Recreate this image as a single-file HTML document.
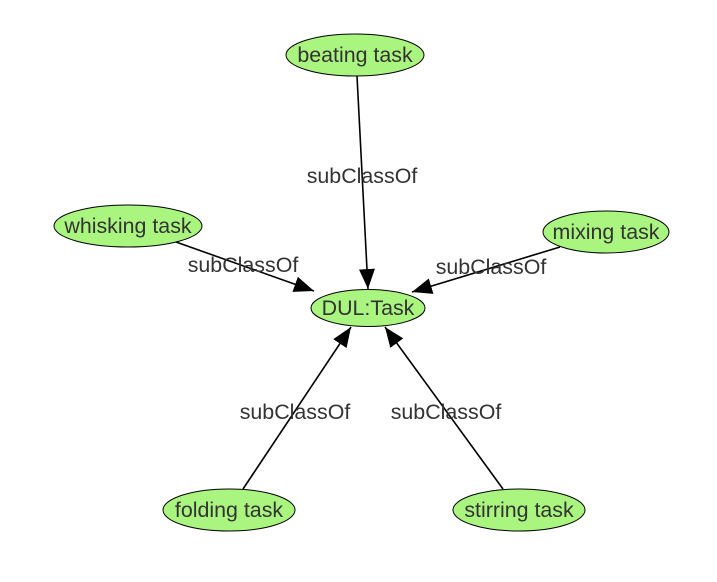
<!DOCTYPE html>
<html><head><meta charset="utf-8"><style>
html,body{margin:0;padding:0;background:#fff;}
svg{display:block;}
text{font-family:"Liberation Sans",Arial,sans-serif;font-size:21.4px;fill:#333;}
</style></head><body>
<svg width="717" height="582" viewBox="0 0 717 582" xmlns="http://www.w3.org/2000/svg">
<defs>
<marker id="a" markerWidth="20" markerHeight="16" refX="20" refY="8" orient="auto" markerUnits="userSpaceOnUse">
<path d="M0,0 L20,8 L0,16 Z" fill="#000"/>
</marker>
</defs>
<g stroke="#000" stroke-width="1.6" fill="none">
<line x1="357" y1="76" x2="368" y2="289" marker-end="url(#a)"/>
<line x1="176" y1="242" x2="314" y2="291" marker-end="url(#a)"/>
<line x1="560" y1="247" x2="412" y2="292" marker-end="url(#a)"/>
<line x1="243" y1="489" x2="351" y2="327" marker-end="url(#a)"/>
<line x1="503" y1="489" x2="385" y2="327" marker-end="url(#a)"/>
</g>
<g fill="#aaf57f" stroke="#000" stroke-width="1">
<ellipse cx="355" cy="55" rx="69" ry="21"/>
<ellipse cx="128" cy="226" rx="74" ry="21"/>
<ellipse cx="606" cy="232" rx="63" ry="21"/>
<ellipse cx="368" cy="308" rx="57" ry="18.5"/>
<ellipse cx="229" cy="510" rx="66" ry="21"/>
<ellipse cx="519" cy="510" rx="66" ry="21"/>
</g>
<g text-anchor="middle">
<text x="355" y="62">beating task</text>
<text x="128" y="233">whisking task</text>
<text x="606" y="239">mixing task</text>
<text x="368" y="315">DUL:Task</text>
<text x="229" y="517">folding task</text>
<text x="519" y="517">stirring task</text>
<text x="362" y="183">subClassOf</text>
<text x="243" y="272">subClassOf</text>
<text x="491" y="274">subClassOf</text>
<text x="295" y="419">subClassOf</text>
<text x="446" y="419">subClassOf</text>
</g>
</svg>
</body></html>
